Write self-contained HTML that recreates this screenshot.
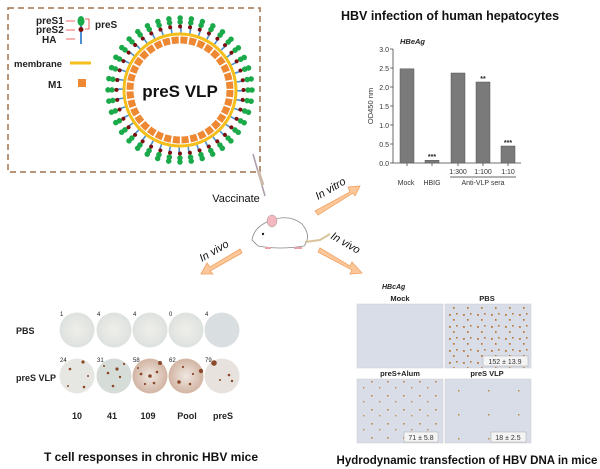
<!DOCTYPE html><html><head><style>body{margin:0;background:#fff}svg{display:block;font-family:"Liberation Sans",Arial,sans-serif}</style></head><body>
<svg width="600" height="469" viewBox="0 0 600 469" xmlns="http://www.w3.org/2000/svg">
<defs>
<radialGradient id="pg" cx="50%" cy="50%" r="50%"><stop offset="0" stop-color="#f0eeea"/><stop offset="1" stop-color="#dde2de"/></radialGradient>
<radialGradient id="vg" cx="50%" cy="50%" r="50%"><stop offset="0" stop-color="#efe8e2"/><stop offset="1" stop-color="#d2b4a2"/></radialGradient>
<pattern id="dense" width="14" height="12" patternUnits="userSpaceOnUse">
<rect width="14" height="12" fill="#d9dde8"/>
<rect x="1" y="2" width="1.8" height="1.8" fill="#b87a3a"/><rect x="8" y="1" width="1.6" height="1.6" fill="#b87a3a"/><rect x="5" y="7" width="1.6" height="1.8" fill="#b87a3a"/>
</pattern>
<pattern id="mid" width="16" height="14" patternUnits="userSpaceOnUse">
<rect width="16" height="14" fill="#d9dde8"/>
<rect x="3" y="3" width="1.6" height="1.6" fill="#bf8a4a"/><rect x="11" y="9" width="1.4" height="1.4" fill="#bf8a4a"/>
</pattern>
<pattern id="sparse" width="30" height="24" patternUnits="userSpaceOnUse">
<rect width="30" height="24" fill="#d9dde8"/>
<rect x="8" y="6" width="1.5" height="1.5" fill="#bf8a4a"/>
</pattern>
</defs>
<rect x="8" y="8" width="252" height="164" fill="none" stroke="#a0714b" stroke-width="1.5" stroke-dasharray="6,4"/>
<circle cx="180" cy="90" r="68" fill="none" stroke="#1aaa4a" stroke-width="5.5" stroke-linecap="round" stroke-dasharray="0.01 10.672"/>
<circle cx="180" cy="90" r="72" fill="none" stroke="#1aaa4a" stroke-width="5.5" stroke-linecap="round" stroke-dasharray="0.01 11.3"/>
<circle cx="180" cy="90" r="59.5" fill="none" stroke="#4a90d0" stroke-width="5" stroke-dasharray="1.6 7.746"/>
<circle cx="180" cy="90" r="63.5" fill="none" stroke="#7a1010" stroke-width="4" stroke-linecap="round" stroke-dasharray="0.01 9.964"/>
<circle cx="180" cy="90" r="56" fill="none" stroke="#f5be1a" stroke-width="3"/>
<circle cx="180" cy="90" r="50" fill="none" stroke="#ee8833" stroke-width="7" stroke-dasharray="7 1.727"/>
<text x="36" y="24" font-size="10" font-weight="bold" fill="#222">preS1</text>
<text x="36" y="33" font-size="10" font-weight="bold" fill="#222">preS2</text>
<text x="42" y="43" font-size="10" font-weight="bold" fill="#222">HA</text>
<path d="M66 21h9M66 30h9M66 39h9" stroke="#e33" stroke-width="0.8"/>
<line x1="81" y1="22" x2="81" y2="44" stroke="#4a90d0" stroke-width="2"/>
<ellipse cx="81" cy="21" rx="3.5" ry="5" fill="#1aaa4a"/>
<circle cx="81" cy="29.5" r="2.5" fill="#7a1010"/>
<path d="M85 19h4v10h-4" fill="none" stroke="#e33" stroke-width="0.8"/>
<text x="95" y="28" font-size="10" font-weight="bold" fill="#222">preS</text>
<text x="14" y="67" font-size="9.5" font-weight="bold" fill="#222">membrane</text>
<line x1="70" y1="63" x2="91" y2="63" stroke="#f5be1a" stroke-width="3"/>
<text x="48" y="88" font-size="10" font-weight="bold" fill="#222">M1</text>
<rect x="78" y="79" width="8" height="8" fill="#ee8833"/>
<text x="180" y="97" font-size="17" font-weight="bold" text-anchor="middle" fill="#111">preS VLP</text>
<line x1="253" y1="154" x2="265" y2="196" stroke="#a9a" stroke-width="1.5"/>
<line x1="258" y1="170" x2="263" y2="185" stroke="#cba" stroke-width="3"/>
<text x="450" y="20" font-size="12.5" font-weight="bold" text-anchor="middle" fill="#111">HBV infection of human hepatocytes</text>
<text x="400" y="44" font-size="7.5" font-weight="bold" font-style="italic" fill="#222">HBeAg</text>
<g font-size="7" fill="#333" text-anchor="end">
<text x="389" y="52">3.0</text><text x="389" y="71">2.5</text><text x="389" y="90">2.0</text><text x="389" y="109">1.5</text><text x="389" y="128">1.0</text><text x="389" y="147">0.5</text><text x="389" y="166">0.0</text>
</g>
<path d="M393 49V163H521M390 49h3M390 68h3M390 87h3M390 106h3M390 125h3M390 144h3M390 163h3M407 163v3M432 163v3M458 163v3M483 163v3M508 163v3" stroke="#444" stroke-width="0.8" fill="none"/>
<text transform="translate(373,106) rotate(-90)" font-size="7.5" text-anchor="middle" fill="#333">OD450 nm</text>
<g fill="#7a7a7a" stroke="#555" stroke-width="0.5">
<rect x="400" y="68.8" width="14" height="94.2"/><rect x="425" y="160.3" width="14" height="2.7"/><rect x="451" y="73" width="14" height="90"/><rect x="476" y="82" width="14" height="81"/><rect x="501" y="146" width="14" height="17"/>
</g>
<g font-size="7" font-weight="bold" text-anchor="middle" fill="#222"><text x="432" y="159">***</text><text x="483" y="81">**</text><text x="508" y="145">***</text></g>
<g font-size="7" text-anchor="middle" fill="#333"><text x="458" y="174">1:300</text><text x="483" y="174">1:100</text><text x="508" y="174">1:10</text>
<text x="406" y="185">Mock</text><text x="432" y="185">HBIG</text><text x="483" y="185">Anti-VLP sera</text></g>
<line x1="450" y1="177" x2="516" y2="177" stroke="#333" stroke-width="0.7"/>
<text x="236" y="202" font-size="11" text-anchor="middle" fill="#111">Vaccinate</text>
<g transform="translate(250,208)">
<path d="M2 32 Q4 18 22 12 Q40 6 52 16 Q62 28 54 38 Q30 42 8 38 Z" fill="#fff" stroke="#888" stroke-width="0.8"/>
<ellipse cx="22" cy="13" rx="5" ry="6" fill="#f4b8c0" stroke="#999" stroke-width="0.5"/>
<circle cx="13" cy="26" r="1.2" fill="#222"/>
<path d="M55 34 L70 32 L80 26" fill="none" stroke="#d9c39a" stroke-width="2"/>
<path d="M15 40h6M44 40h8" stroke="#e9a0a8" stroke-width="2"/>
</g>
<g fill="#fcc89a" stroke="#f0a060" stroke-width="0.8">
<polygon points="315,211 350,192 348,187 360,186 355,196 353,193 318,215"/>
<polygon points="240,249 210,267 207,263 201,274 213,274 210,271 242,253"/>
<polygon points="320,248 350,266 352,262 362,273 350,274 352,270 318,252"/>
</g>
<text transform="translate(318,200) rotate(-30)" font-size="11" font-style="italic" fill="#111">In vitro</text>
<text transform="translate(202,262) rotate(-30)" font-size="11" font-style="italic" fill="#111">In vivo</text>
<text transform="translate(330,238) rotate(30)" font-size="11" font-style="italic" fill="#111">In vivo</text>
<g>
<circle cx="77" cy="330" r="17.5" fill="url(#pg)"/><circle cx="114" cy="330" r="17.5" fill="url(#pg)"/><circle cx="150" cy="330" r="17.5" fill="url(#pg)"/><circle cx="186" cy="330" r="17.5" fill="url(#pg)"/><circle cx="222" cy="330" r="17.5" fill="#d9dfe0"/>
<circle cx="77" cy="376" r="17.5" fill="#e6e6e2"/><circle cx="114" cy="376" r="17.5" fill="#d6dcd8"/><circle cx="150" cy="376" r="17.5" fill="url(#vg)"/><circle cx="186" cy="376" r="17.5" fill="url(#vg)"/><circle cx="222" cy="376" r="17.5" fill="#e8e2de"/>
</g>
<g fill="#8a4a2a">
<circle cx="70" cy="369" r="1.3"/><circle cx="83" cy="362" r="1.6"/><circle cx="88" cy="376" r="1"/><circle cx="68" cy="386" r="1"/><circle cx="84" cy="387" r="1.3"/>
<circle cx="108" cy="373" r="1.3"/><circle cx="117" cy="369" r="1.6"/><circle cx="120" cy="377" r="1.2"/><circle cx="113" cy="386" r="1.3"/><circle cx="104" cy="366" r="1"/><circle cx="124" cy="364" r="1.1"/>
<circle cx="141" cy="374" r="1.4"/><circle cx="150" cy="376" r="1.8"/><circle cx="157" cy="372" r="1.3"/><circle cx="154" cy="383" r="1.3"/><circle cx="160" cy="363" r="2"/><circle cx="145" cy="384" r="1.1"/><circle cx="138" cy="368" r="1"/>
<circle cx="179" cy="382" r="1.8"/><circle cx="190" cy="384" r="1.3"/><circle cx="201" cy="371" r="2.2"/><circle cx="183" cy="367" r="1.1"/><circle cx="193" cy="374" r="1.1"/>
<circle cx="214" cy="363" r="2.8"/><circle cx="229" cy="375" r="1.3"/><circle cx="232" cy="381" r="1.2"/><circle cx="220" cy="380" r="1"/>
</g>
<g font-size="6" fill="#222"><text x="60" y="316">1</text><text x="97" y="316">4</text><text x="133" y="316">4</text><text x="169" y="316">0</text><text x="205" y="316">4</text>
<text x="60" y="362">24</text><text x="97" y="362">31</text><text x="133" y="362">58</text><text x="169" y="362">62</text><text x="205" y="362">79</text></g>
<text x="16" y="334" font-size="9" font-weight="bold" fill="#222">PBS</text>
<text x="16" y="381" font-size="9" font-weight="bold" fill="#222">preS VLP</text>
<g font-size="9" font-weight="bold" text-anchor="middle" fill="#222"><text x="77" y="419">10</text><text x="112" y="419">41</text><text x="148" y="419">109</text><text x="187" y="419">Pool</text><text x="223" y="419">preS</text></g>
<text x="151" y="461" font-size="12" font-weight="bold" text-anchor="middle" fill="#111">T cell responses in chronic HBV mice</text>
<text x="382" y="289" font-size="7" font-weight="bold" font-style="italic" fill="#222">HBcAg</text>
<g font-size="7.5" font-weight="bold" text-anchor="middle" fill="#222"><text x="400" y="301">Mock</text><text x="487" y="301">PBS</text><text x="400" y="376">preS+Alum</text><text x="487" y="376">preS VLP</text></g>
<g stroke="#ccc" stroke-width="0.5">
<rect x="357" y="304" width="86" height="64" fill="#d9dde8"/><rect x="445" y="304" width="86" height="64" fill="url(#dense)"/><rect x="357" y="379" width="86" height="64" fill="url(#mid)"/><rect x="445" y="379" width="86" height="64" fill="url(#sparse)"/></g>
<g fill="#f4f4f4" stroke="#999" stroke-width="0.4"><rect x="483" y="356" width="45" height="10"/><rect x="404" y="432" width="34" height="10"/><rect x="491" y="432" width="35" height="10"/></g>
<g font-size="7" text-anchor="middle" fill="#333"><text x="505" y="364">152 ± 13.9</text><text x="421" y="440">71 ± 5.8</text><text x="508" y="440">18 ± 2.5</text></g>
<text x="467" y="464" font-size="11.5" font-weight="bold" text-anchor="middle" fill="#111">Hydrodynamic transfection of HBV DNA in mice</text>
</svg></body></html>
